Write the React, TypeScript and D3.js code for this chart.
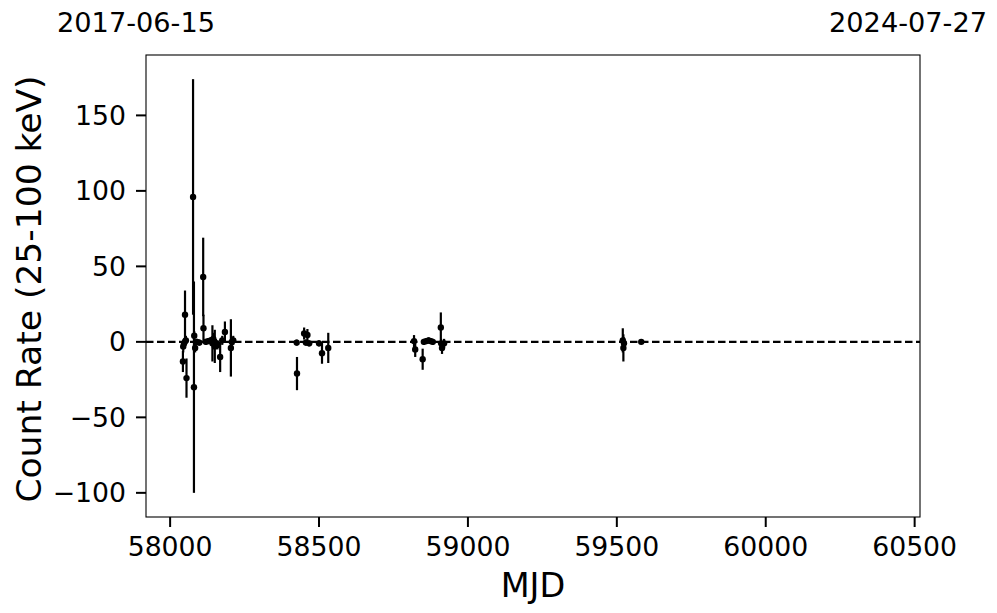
import React from "react";
import * as d3 from "d3";

const mjd = [
  58043, 58044, 58047, 58050, 58051, 58053, 58055, 58077, 58080, 58081, 58084, 58090, 58098,
  58111, 58112, 58120, 58128, 58136, 58142, 58145, 58150, 58154, 58159, 58168, 58175, 58184,
  58204, 58207, 58212,
  58425, 58426, 58450, 58456, 58461, 58467, 58500, 58510, 58531,
  58819, 58823, 58848, 58852, 58860, 58868, 58875, 58882, 58909, 58910, 58913, 58920,
  59520, 59522, 59524, 59582,
];
const rate = [
  -13, -3, -1, 18, 0.5, 1, -24, 96, -30, 4, -4, 0, -0.5,
  43, 9, 0, 0.5, 1, -1, 2, -3, -1, -2, -10, 1, 6.5,
  -4, 0, 1,
  -0.5, -21, 5.5, -0.5, 4.5, -1, -1, -7.5, -4,
  0.5, -5, -11.5, 0, 0.5, 1, 0.5, 0, 9.5, -1, -4, -1,
  1, -4, -1, 0,
];
const err = [
  7, 4, 3, 16, 3, 3, 13, 78, 70, 3, 3, 2, 2,
  26, 9, 2, 2, 2, 12, 4, 11, 3, 3, 10, 3, 7,
  19, 3, 3,
  2, 11, 4, 2, 4, 2, 2, 7, 10,
  4, 5, 7, 2, 2, 2, 2, 2, 10, 3, 4, 3,
  8, 9, 4, 1.5,
];
const xTicks = [58000, 58500, 59000, 59500, 60000, 60500];
const yTicks = [-100, -50, 0, 50, 100, 150];
const startLabel = "2017-06-15";
const endLabel = "2024-07-27";

export default function App() {
  const W = 997, H = 613;
  const L = 146, R = 920, T = 55, B = 517;
  const x = d3.scaleLinear().domain([57919, 60518]).range([L, R]);
  const y = d3.scaleLinear().domain([-116, 190]).range([B, T]);
  const font = "DejaVu Sans, sans-serif";
  const tickFs = 26.7;
  const fmt = (v: number) => (v < 0 ? "\u2212" + Math.abs(v) : String(v));
  const pts = mjd.map((m, i) => ({ m, r: rate[i], e: err[i] }));
  return (
    <div style={{ position: "fixed", left: 0, top: 0 }}>
      <svg width={W} height={H} style={{ display: "block", background: "#fff" }}>
        <rect x={0} y={0} width={W} height={H} fill="#fff" />
        <line x1={L} x2={R} y1={y(0)} y2={y(0)} stroke="#000" strokeWidth={2.1} strokeDasharray="7.5,3.5" />
        {pts.map((p, i) => (
          <line key={"e" + i} x1={x(p.m)} x2={x(p.m)} y1={y(p.r - p.e)} y2={y(p.r + p.e)} stroke="#000" strokeWidth={2.2} />
        ))}
        {pts.map((p, i) => (
          <circle key={"c" + i} cx={x(p.m)} cy={y(p.r)} r={3.2} fill="#000" />
        ))}
        <rect x={L} y={T} width={R - L} height={B - T} fill="none" stroke="#000" strokeWidth={1.1} />
        {xTicks.map((t) => (
          <g key={"x" + t}>
            <line x1={x(t)} x2={x(t)} y1={B} y2={B + 10} stroke="#000" strokeWidth={2} />
            <text x={x(t)} y={556} textAnchor="middle" fontFamily={font} fontSize={tickFs} fill="#000">
              {t}
            </text>
          </g>
        ))}
        {yTicks.map((t) => (
          <g key={"y" + t}>
            <line x1={L - 10} x2={L} y1={y(t)} y2={y(t)} stroke="#000" strokeWidth={2} />
            <text x={126} y={y(t)} dy="0.36em" textAnchor="end" fontFamily={font} fontSize={tickFs} fill="#000">
              {fmt(t)}
            </text>
          </g>
        ))}
        <text x={(L + R) / 2} y={597} textAnchor="middle" fontFamily={font} fontSize={33.5} fill="#000">
          MJD
        </text>
        <text transform={`translate(41, ${(T + B) / 2 + 3}) rotate(-90)`} textAnchor="middle" fontFamily={font} fontSize={34.5} fill="#000">
          Count Rate (25-100 keV)
        </text>
        <text x={57} y={32} textAnchor="start" fontFamily={font} fontSize={27.2} fill="#000">
          {startLabel}
        </text>
        <text x={987} y={32} textAnchor="end" fontFamily={font} fontSize={27.2} fill="#000">
          {endLabel}
        </text>
      </svg>
    </div>
  );
}
